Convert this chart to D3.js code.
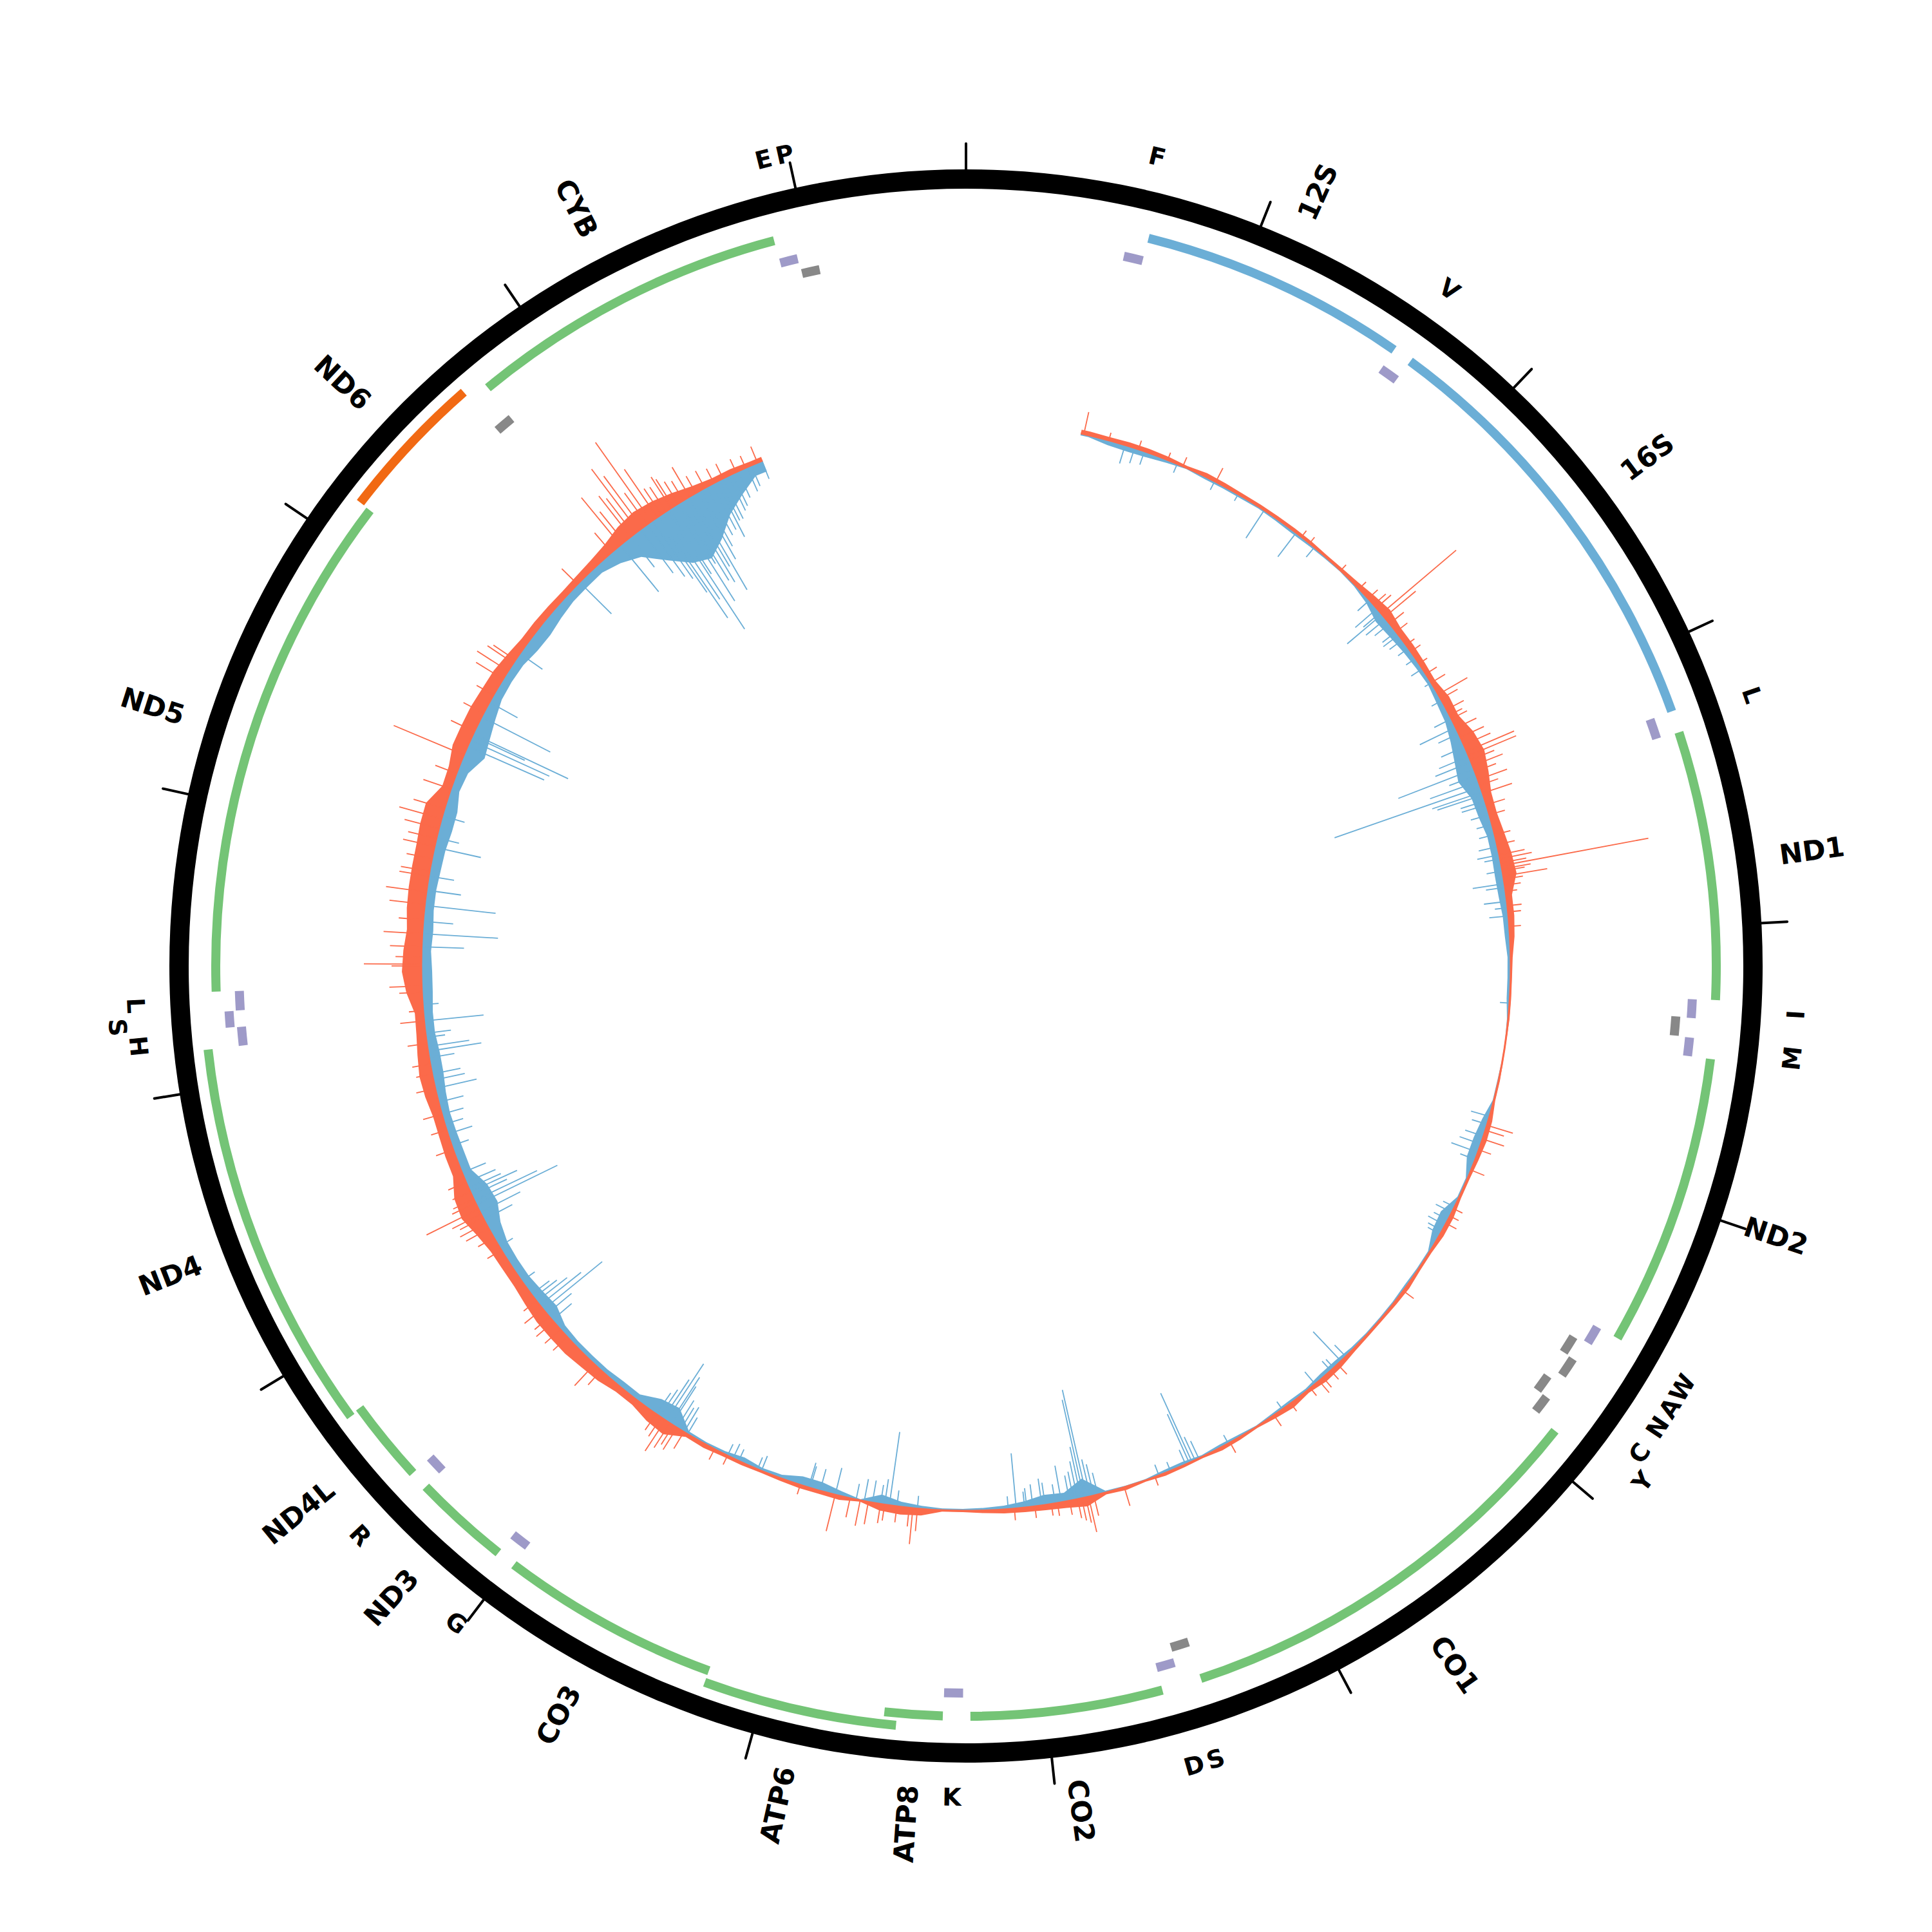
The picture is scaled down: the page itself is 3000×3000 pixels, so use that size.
<!DOCTYPE html>
<html><head><meta charset="utf-8">
<script src="https://cdn.jsdelivr.net/npm/d3@7"></script>
<style>body{margin:0;background:#fff}</style>
</head><body>
<svg id="chart" width="3000" height="3000"></svg>
<script>
// ---------------- DATA ----------------
const GENOME_LENGTH = 16569;
const tickPositions = [0,1000,2000,3000,4000,5000,6000,7000,8000,9000,10000,11000,12000,13000,14000,15000,16000];

const geneNames   = ["12S","16S","ND1","ND2","CO1","CO2","ATP8","ATP6","CO3","ND3","ND4L","ND4","ND5","ND6","CYB"];
const geneStarts  = [648,1671,3307,4470,5904,7586,8366,8527,9207,10059,10470,10760,12337,14149,14747];
const geneEnds    = [1601,3229,4262,5511,7445,8269,8572,9207,9990,10404,10766,12137,14148,14673,15887];
const geneStrands = ["+","+","+","+","+","+","+","+","+","+","+","+","+","-","+"];
const geneTypes   = ["rRNA","rRNA","CDS","CDS","CDS","CDS","CDS","CDS","CDS","CDS","CDS","CDS","CDS","CDS","CDS"];

const trnaNames   = ["F","V","L1","I","Q","M","W","A","N","C","Y","S1","D","K","G","R","H","S2","L2","E","T","P"];
const trnaLabels  = ["F","V","L","I","","M","W","A","N","C","Y","S","D","K","G","R","H","S","L","","E","P"];
const trnaStarts  = [577,1602,3230,4263,4329,4402,5512,5587,5657,5761,5826,7446,7518,8295,9991,10405,12138,12207,12266,14674,15888,15956];
const trnaEnds    = [647,1670,3304,4331,4400,4469,5579,5655,5729,5826,5891,7514,7585,8364,10058,10469,12206,12265,12336,14742,15953,16023];
const trnaStrands = ["+","+","+","+","-","+","+","-","-","-","-","-","+","+","+","+","+","+","+","-","+","-"];

// per-position signal (background level), binned every 100 bp starting at 600 bp
const dataStart = 560, dataEnd = 15560, binStart = 600, binStep = 100;
const plusValues = [6,5,6,6,5,3,6,5,4,4,
 4,4,4,3,4,6,10,14,9,9,
 8,7,13,12,22,26,20,13,12,15,
 19,21,9,9,7,3,2,2,2,1,
 1,2,2,6,7,5,3,3,6,6,
 3,3,5,4,3,3,4,7,8,4,
 8,5,2,4,5,2,3,4,2,5,
 3,14,10,8,7,6,4,2,2,10,
 12,10,2,6,5,5,4,3,4,4,
 6,5,20,17,10,10,15,17,20,20,
 20,17,14,14,15,21,30,27,15,15,
 14,14,18,20,17,14,13,24,30,28,
 24,27,28,28,28,30,30,14,15,22,
 22,22,20,19,15,11,11,10,9,10,
 12,16,24,28,25,19,12,8,8,6];
const minusValues = [3,8,9,8,5,2,4,4,4,3,
 4,5,4,3,2,3,7,15,13,10,
 8,6,9,11,17,24,30,19,17,12,
 12,13,12,9,8,5,5,5,2,1,
 1,2,2,10,14,14,3,3,16,14,
 3,3,4,3,3,3,4,7,7,4,
 5,4,2,4,5,3,6,5,2,2,
 3,30,14,16,10,6,4,3,3,5,
 8,15,2,8,14,14,6,5,9,5,
 4,5,28,24,10,10,8,8,8,10,
 20,17,14,14,15,21,32,29,15,15,
 14,13,15,18,18,15,15,17,17,15,
 17,15,15,17,18,21,21,14,17,32,
 27,21,15,14,15,20,21,17,14,14,
 14,22,35,65,90,100,82,55,36,18];

// isolated peaks (position, value)
const plusPeakPositions = [575,700,850,1000,1080,1256,1750,1800,2000,2125,2190,2230,2287,2310,2480,2520,2590,2766,2790,2880,2900,3074,3097,3222,3250,3291,3640,3654,3680,3705,3780,3950,
 4925,4994,5155,5400,5827,6305,6400,6425,6600,6700,6950,7350,7507,7660,7686,7780,7870,8050,8520,8542,8560,8680,8700,8924,9550,9780,9800,9826,
 10220,10264,10500,10580,10632,10980,11050,11160,11180,11207,11240,11300,11520,11828,11950,12160,12210,12330,12427,12436,12520,12583,12726,12786,12864,12887,13011,13100,13149,13200,13300,13476,13890,13936,13982,14000,14475,
 14756,14820,14866,14945,14980,15004,15060,15073,15165,15533];
const plusPeakValues    = [35,12,14,12,15,24,12,12,12,15,20,25,152,63,16,18,15,52,30,22,27,80,80,48,30,48,40,232,35,69,18,18,
 42,35,22,15,20,21,20,24,15,20,18,14,30,32,56,22,18,18,35,56,29,25,30,58,18,35,45,57,
 30,45,32,30,36,25,28,40,50,90,40,30,28,30,28,37,22,50,46,89,49,60,55,63,46,45,50,55,68,50,45,118,49,57,48,41,34,
 95,80,120,150,90,48,57,50,53,27];
const minusPeakPositions = [782,830,880,1050,1250,1380,1528,1717,1830,2255,2292,2350,2400,2560,2620,2700,2946,3167,3200,3259,3285,3300,3330,3400,3620,3742,3829,3900,4322,
 4880,5063,5420,5500,6282,6330,6650,6960,7157,7171,7270,7330,7677,7695,7709,7723,7820,7900,7916,8041,8080,8520,8657,8700,8740,8924,9000,9058,9300,9320,9420,9740,9760,9790,9822,9840,
 10627,10654,10678,10700,10800,11000,11230,11253,11280,11320,11540,11828,11900,12012,12035,12160,12240,12583,12721,12795,13007,13163,13522,13587,13554,13577,13680,13760,
 14489,14756,14950,14986,15010,15036,15080,15115,15140,15179,15210,15260,15313,15350,15400,15478,15556];
const minusPeakValues    = [30,25,22,15,15,12,52,47,20,45,71,30,27,18,21,12,62,126,45,240,82,75,40,30,25,50,36,30,15,
 30,44,25,22,63,18,15,15,117,83,15,18,59,171,156,82,58,35,42,86,20,20,115,30,35,43,35,40,25,20,20,40,50,70,106,73,
 118,82,60,45,25,25,140,108,60,55,28,66,45,84,66,93,25,118,111,54,74,36,130,163,135,90,120,50,
 70,94,110,191,160,220,175,143,150,170,120,85,96,70,55,41,30];

// smaller peaks [position, value]
const plusMinorPeaks = [[12300,35],[12470,40],[12650,38],[12950,40],[13050,45],[13380,35],[13600,40],[13700,35],[13800,30],
 [14700,40],[14780,60],[14840,70],[14890,100],[14920,60],[15030,45],[15100,40],[15130,35],[15200,30],[15250,30],[15300,25],[15350,25],[15420,22],[15470,20],
 [12050,30],[11900,25],[11700,30],[11620,25],[11100,40],[11130,45],[11260,35],[11350,30],
 [10450,30],[10550,35],[10680,25],[9720,30],[9760,40],[9850,35],[9880,30],[9100,15],[9480,15],
 [8620,25],[8760,35],[8800,40],[8850,30],[7700,40],[7720,35],[7740,30],[7840,20],[7950,18],
 [6350,18],[6480,15],[5360,15],[5440,18],[4950,30],[5050,20],
 [2250,30],[2350,28],[2400,22],[2650,20],[2700,25],[2850,30],[2950,35],[3000,40],[3040,45],[3120,40],[3150,50],[3180,35],
 [3350,30],[3400,25],[3500,25],[3550,28],[3600,40],[3620,50],[3670,45],[3720,30],[3750,25],[3850,22],[3880,20]];
const minusMinorPeaks = [[12520,66],[12643,47],[12864,40],[13053,36],[14038,43],
 [14820,60],[14880,85],[14920,100],[14970,140],[15050,120],[15100,110],[15160,125],[15230,100],[15290,80],[15330,70],[15380,60],[15430,45],[15500,35],
 [12100,40],[12080,30],[11980,40],[11870,50],[11760,40],[11700,35],[11650,30],[11600,40],
 [11150,50],[11190,70],[11300,80],[11350,50],[11400,40],[10560,40],[10600,50],[10720,35],
 [9700,30],[9720,45],[9800,85],[9860,50],[9880,40],[9050,35],[9450,25],[9480,20],
 [8620,25],[8680,40],[8780,35],[8820,25],
 [7640,35],[7660,50],[7740,60],[7760,45],[7780,40],[7850,30],[7960,35],[7990,30],[8000,25],
 [7120,30],[7140,40],[7190,25],[6250,25],[6350,20],[6450,25],
 [5350,20],[5380,28],[5450,30],[5480,25],[4920,25],[4980,30],[5020,35],[5100,25],
 [2200,25],[2280,35],[2320,40],[2420,30],[2450,25],[2500,20],[2800,18],[2900,30],[2980,35],[3050,40],[3100,50],[3130,60],[3230,80],
 [3350,40],[3450,25],[3500,25],[3560,30],[3600,35],[3680,25],[3760,30],[3860,20]];

// ---------------- DRAWING ----------------
const C = {
  ring: "#000000", rRNA: "#6baed6", cdsPlus: "#74c476", cdsMinus: "#f16913",
  trnaPlus: "#9e9ac8", trnaMinus: "#888888", plus: "#fb6a4a", minus: "#6baed6"
};
const R = {
  ringIn: 1207, ringOut: 1237, tickOut: 1277,
  gene0: 1165, geneStep: 19, geneHalf: 7,
  trnaPlus: 1129, trnaMinus: 1105, trnaStep: 17.5, trnaHalf: 7,
  geneLabel: 1275, trnaLabel: 1291, trnaLabelStep: 30,
  base: 846
};
const FONT = "'DejaVu Sans', Verdana, sans-serif";

const svg = d3.select("#chart");
const g = svg.append("g").attr("transform", "translate(1500,1500)");
const angle = d3.scaleLinear().domain([0, GENOME_LENGTH]).range([0, 2 * Math.PI]);
const valueScale = d3.scaleLinear().domain([0, 240]).range([0, 240]);
const arc = d3.arc();
const pt = (a, r) => [r * Math.sin(a), -r * Math.cos(a)];
const deg = a => a * 180 / Math.PI;

// outer ring
g.append("path").attr("d", arc({innerRadius: R.ringIn, outerRadius: R.ringOut, startAngle: 0, endAngle: 2 * Math.PI}))
  .attr("fill", C.ring);

// ticks
g.selectAll("line.tick").data(tickPositions).join("line").attr("class", "tick")
  .attr("x1", d => pt(angle(d), R.ringOut - 2)[0]).attr("y1", d => pt(angle(d), R.ringOut - 2)[1])
  .attr("x2", d => pt(angle(d), R.tickOut)[0]).attr("y2", d => pt(angle(d), R.tickOut)[1])
  .attr("stroke", "#000").attr("stroke-width", 4).attr("stroke-linecap", "round");

// genes with track assignment
const genes = geneNames.map((n, i) => ({name: n, start: geneStarts[i], end: geneEnds[i], strand: geneStrands[i], type: geneTypes[i]}));
const trackEnds = [];
genes.slice().sort((a, b) => a.start - b.start).forEach(gn => {
  if (gn.strand === "-") { gn.track = 1; return; }
  let t = 0;
  while (trackEnds[t] !== undefined && gn.start < trackEnds[t]) t++;
  gn.track = t; trackEnds[t] = gn.end;
});
g.selectAll("path.gene").data(genes).join("path").attr("class", "gene")
  .attr("d", d => {
    const rc = R.gene0 + d.track * R.geneStep;
    return arc({innerRadius: rc - R.geneHalf, outerRadius: rc + R.geneHalf, startAngle: angle(d.start), endAngle: angle(d.end)});
  })
  .attr("fill", d => d.type === "rRNA" ? C.rRNA : (d.strand === "-" ? C.cdsMinus : C.cdsPlus));

// gene labels (radial)
g.selectAll("text.glabel").data(genes).join("text").attr("class", "glabel")
  .attr("transform", d => {
    const a = deg(angle((d.start + d.end) / 2));
    return a < 180 ? `rotate(${a - 90}) translate(${R.geneLabel},0)` : `rotate(${a + 90}) translate(${-R.geneLabel},0)`;
  })
  .attr("text-anchor", d => deg(angle((d.start + d.end) / 2)) < 180 ? "start" : "end")
  .attr("dominant-baseline", "central")
  .attr("font-family", FONT).attr("font-weight", "bold").attr("font-size", 43).attr("fill", "#000")
  .text(d => d.name);

// tRNAs
const trnas = trnaNames.map((n, i) => ({name: n, label: trnaLabels[i], start: trnaStarts[i], end: trnaEnds[i], strand: trnaStrands[i]}));
["+", "-"].forEach(s => {
  let prev = null;
  trnas.filter(t => t.strand === s).sort((a, b) => a.start - b.start).forEach(t => {
    t.level = (prev && t.start - prev.end < 10 && prev.level === 0) ? 1 : 0;
    prev = t;
  });
});
g.selectAll("path.trna").data(trnas).join("path").attr("class", "trna")
  .attr("d", d => {
    const rc = (d.strand === "+" ? R.trnaPlus : R.trnaMinus) + d.level * R.trnaStep;
    return arc({innerRadius: rc - R.trnaHalf, outerRadius: rc + R.trnaHalf, startAngle: angle(d.start), endAngle: angle(d.end)});
  })
  .attr("fill", d => d.strand === "+" ? C.trnaPlus : C.trnaMinus);

// tRNA letters (tangential)
const labelled = trnas.filter(t => t.label !== "").sort((a, b) => (a.start + a.end) - (b.start + b.end));
let prevL = null;
labelled.forEach(t => {
  const mid = (t.start + t.end) / 2;
  t.push = (prevL && mid - prevL.mid < 67 && !prevL.push) ? 1 : 0;
  t.mid = mid; prevL = t;
});
g.selectAll("text.tlabel").data(labelled).join("text").attr("class", "tlabel")
  .attr("transform", d => {
    const a = angle(d.mid), r = R.trnaLabel + d.push * R.trnaLabelStep;
    const [x, y] = pt(a, r);
    const ad = deg(a);
    const rot = (ad <= 90 || ad >= 270) ? ad : ad - 180;
    return `translate(${x},${y}) rotate(${rot})`;
  })
  .attr("text-anchor", "middle").attr("dominant-baseline", "central")
  .attr("font-family", FONT).attr("font-weight", "bold").attr("font-size", 38).attr("fill", "#000")
  .text(d => d.label);

// signal track
const bins = plusValues.map((v, i) => ({pos: binStart + i * binStep, plus: v, minus: minusValues[i]}));
const series = [{pos: dataStart, plus: plusValues[0], minus: minusValues[0]}, ...bins,
  {pos: dataEnd, plus: plusValues[plusValues.length - 1], minus: minusValues[minusValues.length - 1]}];

const plusArea = d3.areaRadial().angle(d => angle(d.pos))
  .innerRadius(R.base).outerRadius(d => R.base + valueScale(d.plus)).curve(d3.curveLinear);
const minusArea = d3.areaRadial().angle(d => angle(d.pos))
  .innerRadius(R.base).outerRadius(d => R.base - valueScale(d.minus)).curve(d3.curveLinear);
g.append("path").attr("d", plusArea(series)).attr("fill", C.plus);
g.append("path").attr("d", minusArea(series)).attr("fill", C.minus);

const plusPeaks = plusPeakPositions.map((p, i) => ({pos: p, v: plusPeakValues[i]}))
  .concat(plusMinorPeaks.map(([p, v]) => ({pos: p, v})));
const minusPeaks = minusPeakPositions.map((p, i) => ({pos: p, v: minusPeakValues[i]}))
  .concat(minusMinorPeaks.map(([p, v]) => ({pos: p, v})));
g.selectAll("line.pp").data(plusPeaks).join("line").attr("class", "pp")
  .attr("x1", d => pt(angle(d.pos), R.base)[0]).attr("y1", d => pt(angle(d.pos), R.base)[1])
  .attr("x2", d => pt(angle(d.pos), R.base + valueScale(d.v))[0]).attr("y2", d => pt(angle(d.pos), R.base + valueScale(d.v))[1])
  .attr("stroke", C.plus).attr("stroke-width", 1.8);
g.selectAll("line.mp").data(minusPeaks).join("line").attr("class", "mp")
  .attr("x1", d => pt(angle(d.pos), R.base)[0]).attr("y1", d => pt(angle(d.pos), R.base)[1])
  .attr("x2", d => pt(angle(d.pos), R.base - valueScale(d.v))[0]).attr("y2", d => pt(angle(d.pos), R.base - valueScale(d.v))[1])
  .attr("stroke", C.minus).attr("stroke-width", 1.8);

// baseline
g.append("path").attr("d", arc({innerRadius: R.base - 1.5, outerRadius: R.base + 1.5, startAngle: angle(dataStart), endAngle: angle(dataEnd)}))
  .attr("fill", C.plus);
</script>
</body></html>
